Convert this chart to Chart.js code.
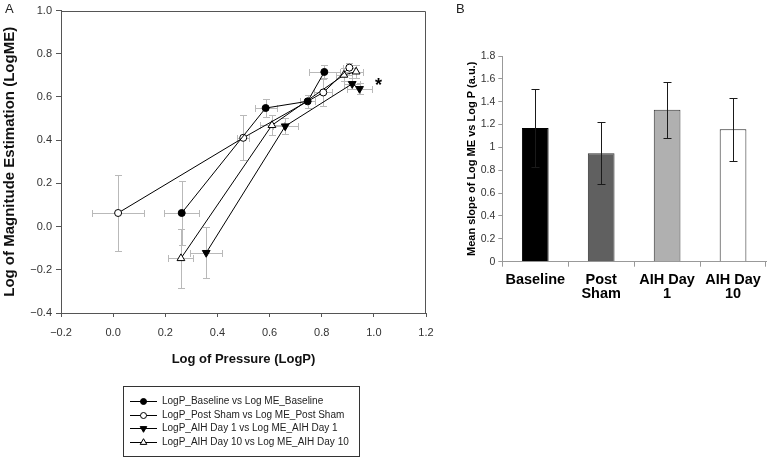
<!DOCTYPE html>
<html><head><meta charset="utf-8">
<script src="https://cdn.jsdelivr.net/npm/chart.js@4/dist/chart.umd.min.js"></script>
<style>
html,body{margin:0;padding:0;background:#fff;}
body{width:768px;height:462px;position:relative;overflow:hidden;font-family:"Liberation Sans",Arial,sans-serif;}
#ca{position:absolute;left:0;top:0;}
#cb{position:absolute;left:460px;top:0;}
.lbl{position:absolute;font-size:13px;color:#222;line-height:15px;}
</style></head><body>
<canvas id="ca" width="450" height="462"></canvas>
<canvas id="cb" width="308" height="320"></canvas>
<div class="lbl" style="left:5px;top:1px">A</div>
<div class="lbl" style="left:456px;top:1px">B</div>
<script>
// ---------- Panel A data ----------
const seriesNames = [
  'LogP_Baseline vs Log ME_Baseline',
  'LogP_Post Sham vs Log ME_Post Sham',
  'LogP_AIH Day 1 vs Log ME_AIH Day 1',
  'LogP_AIH Day 10 vs Log ME_AIH Day 10'
];
const logPBaseline   = [0.263, 0.585, 0.746, 0.810];
const logMEBaseline  = [0.063, 0.549, 0.580, 0.716];
const logPErrBaseline  = [0.067, 0.042, 0.030, 0.059];
const logMEErrBaseline = [0.147, 0.043, 0.030, 0.030];

const logPPostSham   = [0.019, 0.499, 0.806, 0.906];
const logMEPostSham  = [0.063, 0.411, 0.621, 0.736];
const logPErrPostSham  = [0.100, 0.024, 0.035, 0.025];
const logMEErrPostSham = [0.174, 0.104, 0.062, 0.020];

const logPDay1   = [0.357, 0.660, 0.917, 0.945];
const logMEDay1  = [-0.121, 0.465, 0.661, 0.638];
const logPErrDay1  = [0.062, 0.048, 0.030, 0.048];
const logMEErrDay1 = [0.119, 0.038, 0.025, 0.025];

const logPDay10  = [0.260, 0.609, 0.885, 0.932];
const logMEDay10 = [-0.147, 0.469, 0.702, 0.717];
const logPErrDay10  = [0.048, 0.045, 0.030, 0.027];
const logMEErrDay10 = [0.135, 0.046, 0.030, 0.030];

// ---------- Panel B data ----------
const bCategories = [['Baseline'], ['Post', 'Sham'], ['AIH Day', '1'], ['AIH Day', '10']];
const bValues = [1.17, 0.95, 1.33, 1.16];
const bErrors = [0.34, 0.27, 0.245, 0.275];

Chart.defaults.font.family = '"Liberation Sans", Arial, sans-serif';

function pts(xs, ys) { return xs.map((x, i) => ({x: x, y: ys[i]})); }
function fmtA(v) { const r = Math.round(v * 10) / 10; return (r < 0 ? '\u2212' : '') + Math.abs(r).toFixed(1); }

function mkDs(i, xs, ys, xe, ye, style, rot, fill, r) {
  return {
    label: seriesNames[i], data: pts(xs, ys), xErr: xe, yErr: ye,
    showLine: true, borderColor: '#000', borderWidth: 1, fill: false, tension: 0,
    pointStyle: style, pointRotation: rot, pointRadius: r,
    pointBackgroundColor: fill, pointBorderColor: '#000', pointBorderWidth: 1,
    backgroundColor: fill
  };
}

function drawMarker(ctx, style, rot, r, x, y, fill) {
  ctx.beginPath();
  if (style === 'circle') { ctx.arc(x, y, r, 0, Math.PI * 2); }
  else {
    let a = rot * Math.PI / 180;
    for (let k = 0; k < 3; k++) {
      const px = x + Math.sin(a) * r, py = y - Math.cos(a) * r;
      if (k) ctx.lineTo(px, py); else ctx.moveTo(px, py);
      a += 2 * Math.PI / 3;
    }
    ctx.closePath();
  }
  ctx.fillStyle = fill; ctx.fill();
  ctx.strokeStyle = '#000'; ctx.lineWidth = 1; ctx.stroke();
}

const errA = {
  id: 'errA',
  beforeDatasetsDraw(chart) {
    const {ctx} = chart, x = chart.scales.x, y = chart.scales.y;
    const c = 3.5, s = v => Math.round(v) + 0.5;
    ctx.save(); ctx.strokeStyle = '#b9b9b9'; ctx.lineWidth = 1;
    chart.data.datasets.forEach(ds => {
      ds.data.forEach((p, i) => {
        const px = s(x.getPixelForValue(p.x)), py = s(y.getPixelForValue(p.y));
        const x0 = s(x.getPixelForValue(p.x - ds.xErr[i])), x1 = s(x.getPixelForValue(p.x + ds.xErr[i]));
        const y0 = s(y.getPixelForValue(p.y - ds.yErr[i])), y1 = s(y.getPixelForValue(p.y + ds.yErr[i]));
        ctx.beginPath();
        ctx.moveTo(x0, py); ctx.lineTo(x1, py);
        ctx.moveTo(x0, py - c); ctx.lineTo(x0, py + c);
        ctx.moveTo(x1, py - c); ctx.lineTo(x1, py + c);
        ctx.moveTo(px, y0); ctx.lineTo(px, y1);
        ctx.moveTo(px - c, y0); ctx.lineTo(px + c, y0);
        ctx.moveTo(px - c, y1); ctx.lineTo(px + c, y1);
        ctx.stroke();
      });
    });
    ctx.restore();
  }
};

const frameA = {
  id: 'frameA',
  afterDraw(chart) {
    const {ctx, chartArea: a} = chart;
    ctx.save();
    ctx.strokeStyle = '#555'; ctx.lineWidth = 1;
    ctx.beginPath();
    ctx.moveTo(Math.round(a.left) + 0.5, Math.round(a.top) + 0.5);
    ctx.lineTo(Math.round(a.right) - 0.5, Math.round(a.top) + 0.5);
    ctx.lineTo(Math.round(a.right) - 0.5, Math.round(a.bottom));
    ctx.stroke();
    // significance asterisk
    ctx.fillStyle = '#000';
    ctx.font = 'bold 18px "Liberation Sans", Arial, sans-serif';
    ctx.textAlign = 'center'; ctx.textBaseline = 'alphabetic';
    ctx.fillText('*', 378.5, 91);
    // legend box
    const L = 123.5, T = 386.5, R = 359.5, B = 456.5;
    ctx.strokeStyle = '#333';
    ctx.strokeRect(L, T, R - L, B - T);
    ctx.font = '10px "Liberation Sans", Arial, sans-serif';
    ctx.textAlign = 'left'; ctx.textBaseline = 'middle';
    chart.data.datasets.forEach((ds, i) => {
      const yy = 401 + i * 13.6;
      ctx.strokeStyle = '#000'; ctx.lineWidth = 1;
      ctx.beginPath(); ctx.moveTo(130, Math.round(yy) + 0.5); ctx.lineTo(157, Math.round(yy) + 0.5); ctx.stroke();
      drawMarker(ctx, ds.pointStyle, ds.pointRotation, ds.pointStyle === 'circle' ? 3 : 3.8, 143.5, Math.round(yy) + 0.5, ds.pointBackgroundColor);
      ctx.fillStyle = '#222';
      ctx.fillText(ds.label, 162, yy + 0.5);
    });
    ctx.restore();
  }
};

new Chart(document.getElementById('ca'), {
  type: 'scatter',
  data: {
    datasets: [
      mkDs(0, logPBaseline, logMEBaseline, logPErrBaseline, logMEErrBaseline, 'circle', 0, '#000', 3.5),
      mkDs(1, logPPostSham, logMEPostSham, logPErrPostSham, logMEErrPostSham, 'circle', 0, '#fff', 3.5),
      mkDs(2, logPDay1, logMEDay1, logPErrDay1, logMEErrDay1, 'triangle', 180, '#000', 4.5),
      mkDs(3, logPDay10, logMEDay10, logPErrDay10, logMEErrDay10, 'triangle', 0, '#fff', 4.5)
    ]
  },
  options: {
    responsive: false, animation: false,
    layout: {padding: {left: 0, top: 8, right: 24, bottom: 95}},
    plugins: {legend: {display: false}, tooltip: {enabled: false}},
    scales: {
      x: {
        type: 'linear', min: -0.2, max: 1.2,
        ticks: {stepSize: 0.2, callback: fmtA, color: '#333', font: {size: 11}, padding: 9, maxRotation: 0},
        grid: {drawOnChartArea: false, drawTicks: true, tickLength: 4, color: '#555'},
        border: {color: '#555'},
        title: {display: true, text: 'Log of Pressure (LogP)', color: '#111', font: {size: 13, weight: 'bold'}, padding: 0},
        afterFit(s) { s.height = 54; }
      },
      y: {
        type: 'linear', min: -0.4, max: 1.0,
        ticks: {stepSize: 0.2, callback: fmtA, color: '#333', font: {size: 11}, padding: 4},
        grid: {drawOnChartArea: false, drawTicks: true, tickLength: 5, color: '#555'},
        border: {color: '#555'},
        title: {display: true, text: 'Log of Magnitude Estimation (LogME)', color: '#111', font: {size: 15, weight: 'bold'}, padding: {top: 1, bottom: 0}},
        afterFit(s) { s.width = 61; }
      }
    }
  },
  plugins: [errA, frameA]
});

// ---------- Panel B ----------
const errB = {
  id: 'errB',
  afterDatasetsDraw(chart) {
    const {ctx} = chart, y = chart.scales.y;
    const meta = chart.getDatasetMeta(0);
    ctx.save(); ctx.strokeStyle = '#1a1a1a'; ctx.lineWidth = 1;
    meta.data.forEach((bar, i) => {
      const cx = Math.round(bar.x) + 0.5;
      const t = Math.round(y.getPixelForValue(bValues[i] + bErrors[i])) + 0.5;
      const b = Math.round(y.getPixelForValue(bValues[i] - bErrors[i])) + 0.5;
      ctx.beginPath();
      ctx.moveTo(cx, t); ctx.lineTo(cx, b);
      ctx.moveTo(cx - 4, t); ctx.lineTo(cx + 4, t);
      ctx.moveTo(cx - 4, b); ctx.lineTo(cx + 4, b);
      ctx.stroke();
    });
    ctx.restore();
  }
};

new Chart(document.getElementById('cb'), {
  type: 'bar',
  data: {
    labels: bCategories,
    datasets: [{
      data: bValues,
      backgroundColor: ['#000000', '#606060', '#b0b0b0', '#ffffff'],
      borderColor: ['#000000', '#333333', '#333333', '#222222'],
      borderWidth: 1,
      barPercentage: 0.405, categoryPercentage: 1.0
    }]
  },
  options: {
    responsive: false, animation: false,
    layout: {padding: {left: 0, top: 56, right: 2, bottom: 0}},
    plugins: {legend: {display: false}, tooltip: {enabled: false}},
    scales: {
      x: {
        ticks: {color: '#000', font: {size: 14.5, weight: 'bold', lineHeight: 0.97}, padding: 6, maxRotation: 0, autoSkip: false},
        grid: {drawOnChartArea: false, drawTicks: true, tickLength: 5, color: '#999', offset: true},
        border: {color: '#999'},
        afterFit(s) { s.height = 58.3; }
      },
      y: {
        min: 0, max: 1.8,
        ticks: {stepSize: 0.2, color: '#333', font: {size: 10.5}, padding: 3, callback: v => String(+v.toFixed(1))},
        grid: {drawOnChartArea: false, drawTicks: true, tickLength: 4, color: '#999'},
        border: {color: '#999'},
        title: {display: true, text: 'Mean slope of Log ME vs Log P (a.u.)', color: '#000', font: {size: 11, weight: 'bold'}, padding: {top: 5, bottom: 0}},
        afterFit(s) { s.width = 42.3; }
      }
    }
  },
  plugins: [errB]
});
</script>
</body></html>
